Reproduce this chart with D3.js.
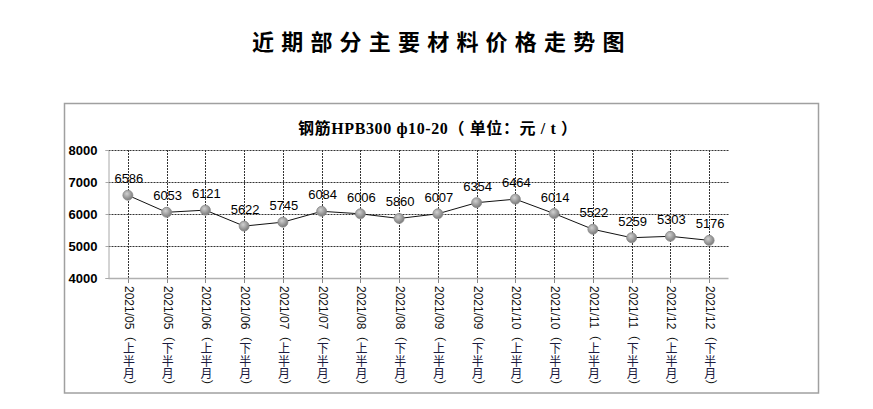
<!DOCTYPE html>
<html><head><meta charset="utf-8">
<script src="https://cdn.jsdelivr.net/npm/d3@7/dist/d3.min.js"></script>
<style>
html,body{margin:0;padding:0;background:#fff;}
svg{display:block;}
</style></head>
<body>
<svg id="chart" width="873" height="409"></svg>
<script>
const categories = ["2021/05（上半月）","2021/05（下半月）","2021/06（上半月）","2021/06（下半月）",
  "2021/07（上半月）","2021/07（下半月）","2021/08（上半月）","2021/08（下半月）",
  "2021/09（上半月）","2021/09（下半月）","2021/10（上半月）","2021/10（下半月）",
  "2021/11（上半月）","2021/11（下半月）","2021/12（上半月）","2021/12（下半月）"];
const prices = [6586,6053,6121,5622,5745,6084,6006,5860,6007,6354,6464,6014,5522,5259,5303,5176];
const yTicks = [4000,5000,6000,7000,8000];
const mainTitle = "近期部分主要材料价格走势图";
const chartTitle = "钢筋HPB300 ф10-20（ 单位：元 / t ）";

const svg = d3.select("#chart");
const defs = svg.append("defs");
const grad = defs.append("radialGradient").attr("id","mk").attr("cx","40%").attr("cy","35%").attr("r","65%");
grad.append("stop").attr("offset","0%").attr("stop-color","#d0d0d0");
grad.append("stop").attr("offset","100%").attr("stop-color","#7a7a7a");

// main title
svg.append("text").attr("x",252).attr("y",50)
  .attr("font-family","'Noto Sans CJK SC'").attr("font-weight","bold").attr("font-size",22)
  .attr("letter-spacing",7.2).attr("fill","#000").text(mainTitle);

// chart box
svg.append("rect").attr("x",64.5).attr("y",103.5).attr("width",754).attr("height",289.5)
  .attr("fill","none").attr("stroke","#a0a0a0").attr("stroke-width",1.5);

// chart title
svg.append("text").attr("x",298).attr("y",134)
  .attr("font-family","'Liberation Serif','Noto Sans CJK SC'").attr("font-weight","bold").attr("font-size",16)
  .attr("textLength",279).attr("lengthAdjust","spacing")
  .attr("fill","#000").text(chartTitle);

const x = d3.scaleBand().domain(categories).range([108.5,728.5]);
const y = d3.scaleLinear().domain([4000,8000]).range([278,150]);
const cx = d => x(d) + x.bandwidth()/2;

// horizontal gridlines
svg.append("g").selectAll("line").data(yTicks.filter(t=>t>4000)).join("line")
  .attr("x1",108.5).attr("x2",728.5).attr("y1",d=>Math.round(y(d))+0.5).attr("y2",d=>Math.round(y(d))+0.5)
  .attr("stroke","#333").attr("stroke-dasharray","2,1");
// vertical gridlines
svg.append("g").selectAll("line").data(categories).join("line")
  .attr("x1",d=>Math.round(cx(d))+0.5).attr("x2",d=>Math.round(cx(d))+0.5).attr("y1",150).attr("y2",278)
  .attr("stroke","#333").attr("stroke-dasharray","2,1");
// tick marks below axis
svg.append("g").selectAll("line").data(categories).join("line")
  .attr("x1",d=>Math.round(cx(d))+0.5).attr("x2",d=>Math.round(cx(d))+0.5).attr("y1",278).attr("y2",283)
  .attr("stroke","#888");

// axes
const yAxis = d3.axisLeft(y).tickValues(yTicks).tickFormat(d3.format("d")).tickSize(3).tickPadding(8);
const gy = svg.append("g").attr("transform","translate(108.5,0)").call(yAxis);
gy.select(".domain").attr("stroke","#a8a8a8");
gy.selectAll(".tick line").attr("stroke","#a8a8a8");
gy.selectAll("text").attr("font-family","'Liberation Sans',Arial").attr("font-weight","bold")
  .attr("font-size",13).attr("fill","#000");

svg.append("line").attr("x1",108.5).attr("x2",728.5).attr("y1",278.5).attr("y2",278.5)
  .attr("stroke","#b0b0b0").attr("stroke-width",1.5);

// x labels: date part turned 90°, CJK characters upright below it
const xl = svg.append("g").selectAll("g").data(categories).join("g")
  .attr("transform",d=>`translate(${cx(d)+1},286)`);
xl.append("text").attr("transform","rotate(90)").attr("dominant-baseline","central")
  .attr("font-family","'Liberation Sans','Noto Sans CJK SC'").attr("font-size",12).attr("fill","#111")
  .text(d=>d.slice(0,8));
xl.each(function(d){
  const g = d3.select(this);
  const chars = d.slice(8,11).split("");
  g.selectAll("text.c").data(chars).join("text").attr("class","c")
    .attr("x",0).attr("y",(c,i)=>62.5+i*12.5+4.56).attr("text-anchor","middle")
    .attr("font-family","'Liberation Serif','Noto Sans CJK SC'").attr("font-size",12)
    .attr("fill","#1a1a40").text(c=>c);
  g.append("text").attr("transform","translate(0,93.5) rotate(90)").attr("dominant-baseline","central")
    .attr("font-family","'Liberation Sans','Noto Sans CJK SC'").attr("font-size",12).attr("fill","#111")
    .text(d.slice(11));
});

// line
const line = d3.line().x((d,i)=>cx(categories[i])).y(d=>y(d));
svg.append("path").datum(prices).attr("d",line).attr("fill","none").attr("stroke","#111").attr("stroke-width",1);

// markers
svg.append("g").selectAll("circle").data(prices).join("circle")
  .attr("cx",(d,i)=>cx(categories[i])).attr("cy",d=>y(d)).attr("r",5)
  .attr("fill","url(#mk)").attr("stroke","#8a8a8a").attr("stroke-width",0.8);

// data labels
svg.append("g").selectAll("text").data(prices).join("text")
  .attr("x",(d,i)=>cx(categories[i])+1).attr("y",d=>y(d)-12).attr("text-anchor","middle")
  .attr("font-family","'Liberation Sans',Arial").attr("font-size",13).attr("fill","#000")
  .text(d=>d);
</script>
</body></html>
